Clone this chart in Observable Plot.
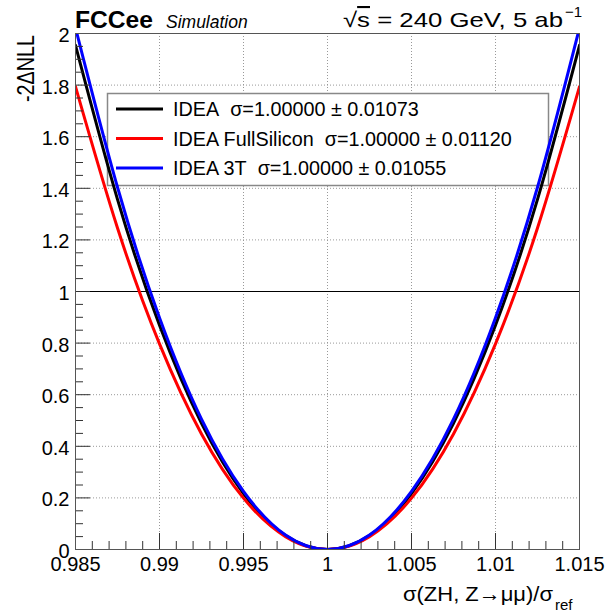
<!DOCTYPE html>
<html><head><meta charset="utf-8">
<script src="https://cdn.jsdelivr.net/npm/d3@7"></script>
<script src="https://cdn.jsdelivr.net/npm/@observablehq/plot@0.6"></script>
<style>html,body{margin:0;padding:0;background:#fff} svg{display:block}</style>
</head><body><div id="chart"></div>
<script>
// ---- data ----
const xValues = [0.985, 0.9875, 0.99, 0.9925, 0.995, 0.9975, 1.0, 1.0025, 1.005, 1.0075, 1.01, 1.0125, 1.015];
const ideaNLL = [1.954, 1.357, 0.869, 0.489, 0.217, 0.054, 0, 0.054, 0.217, 0.489, 0.869, 1.357, 1.954];
const ideaFullSiliconNLL = [1.794, 1.246, 0.797, 0.448, 0.199, 0.050, 0, 0.050, 0.199, 0.448, 0.797, 1.246, 1.794];
const idea3TNLL = [2.022, 1.404, 0.898, 0.505, 0.225, 0.056, 0, 0.056, 0.225, 0.505, 0.898, 1.404, 2.022];

const seriesNames = ["IDEA", "IDEA FullSilicon", "IDEA 3T"];
const seriesColors = ["#000000", "#ff0000", "#0000ff"];
const sigmaValues = ["1.00000", "1.00000", "1.00000"];
const sigmaErrors = ["0.01073", "0.01120", "0.01055"];

const xMajorTicks = [0.985, 0.99, 0.995, 1, 1.005, 1.01, 1.015];
const xTickLabels = ["0.985", "0.99", "0.995", "1", "1.005", "1.01", "1.015"];
const xMinorTicks = [0.986, 0.987, 0.988, 0.989, 0.991, 0.992, 0.993, 0.994, 0.996, 0.997, 0.998, 0.999,
                     1.001, 1.002, 1.003, 1.004, 1.006, 1.007, 1.008, 1.009, 1.011, 1.012, 1.013, 1.014];
const yMajorTicks = [0, 0.2, 0.4, 0.6, 0.8, 1, 1.2, 1.4, 1.6, 1.8, 2];
const yTickLabels = ["0", "0.2", "0.4", "0.6", "0.8", "1", "1.2", "1.4", "1.6", "1.8", "2"];
const yMinorTicks = [0.05, 0.1, 0.15, 0.25, 0.3, 0.35, 0.45, 0.5, 0.55, 0.65, 0.7, 0.75, 0.85, 0.9, 0.95,
                     1.05, 1.1, 1.15, 1.25, 1.3, 1.35, 1.45, 1.5, 1.55, 1.65, 1.7, 1.75, 1.85, 1.9, 1.95];
const referenceLevel = [1];

// ---- build table ----
const seriesValues = [ideaNLL, ideaFullSiliconNLL, idea3TNLL];
const rows = [];
seriesNames.forEach((name, s) => xValues.forEach((x, i) => rows.push({x, y: seriesValues[s][i], series: name})));
const xLabelOf = new Map(xMajorTicks.map((d, i) => [d, xTickLabels[i]]));
const yLabelOf = new Map(yMajorTicks.map((d, i) => [d, yTickLabels[i]]));

const W = 607, H = 615, mL = 75, mR = 28, mT = 33, mB = 66;
const innerW = W - mL - mR, innerH = H - mT - mB;
const FONT = "'Liberation Sans', Arial, Helvetica, sans-serif";
const gridStyle = {stroke: "#999", strokeOpacity: 1, strokeWidth: 1, strokeDasharray: "1,2"};

const plot = Plot.plot({
  width: W, height: H,
  marginLeft: mL, marginRight: mR, marginTop: mT, marginBottom: mB,
  style: {fontFamily: FONT, background: "#fff", color: "#000"},
  x: {domain: [0.985, 1.015], label: null},
  y: {domain: [0, 2], label: null},
  color: {domain: seriesNames, range: seriesColors},
  marks: [
    Plot.gridX(xMajorTicks.slice(1, -1), gridStyle),
    Plot.gridY(yMajorTicks.slice(1, -1), gridStyle),
    Plot.ruleY(referenceLevel, {stroke: "#000", strokeWidth: 1}),
    // legend box (white, covers the grid)
    Plot.frame({fill: "#fff", stroke: "#888", strokeWidth: 1.5, insetLeft: 32, insetTop: 60, insetRight: 31, insetBottom: 364}),
    Plot.line(rows, {x: "x", y: "y", z: "series", stroke: "series", curve: "natural", strokeWidth: 3, clip: true}),
    Plot.tickX(xMajorTicks, {x: d => d, stroke: "#333", insetTop: innerH - 16}),
    Plot.tickX(xMinorTicks, {x: d => d, stroke: "#333", insetTop: innerH - 8}),
    Plot.tickY(yMajorTicks, {y: d => d, stroke: "#333", insetRight: innerW - 15}),
    Plot.tickY(yMinorTicks, {y: d => d, stroke: "#333", insetRight: innerW - 8}),
    Plot.axisX(xMajorTicks, {tickSize: 0, tickPadding: 7, fontSize: 20, fill: "#000", label: null, tickFormat: d => xLabelOf.get(d)}),
    Plot.axisY(yMajorTicks, {tickSize: 0, tickPadding: 6, dy: 2, fontSize: 20, fill: "#000", label: null, tickFormat: d => yLabelOf.get(d)}),
    Plot.frame({stroke: "#555", strokeWidth: 1})
  ]
});
document.getElementById("chart").appendChild(plot);

// ---- annotations ----
const svg = d3.select(plot);
const ann = svg.append("g").attr("font-family", FONT).attr("fill", "#000").attr("text-anchor", "start");

ann.append("text").attr("x", 75).attr("y", 28).attr("font-size", 23).attr("font-weight", "bold")
  .attr("textLength", 78).attr("lengthAdjust", "spacingAndGlyphs").text("FCCee");
ann.append("text").attr("x", 166).attr("y", 28).attr("font-size", 17.5).attr("font-style", "italic")
  .text("Simulation");

const energy = ann.append("text").attr("x", 343).attr("y", 27).attr("font-size", 21)
  .attr("textLength", 220).attr("lengthAdjust", "spacingAndGlyphs");
energy.append("tspan").text("\u221A");
energy.append("tspan").attr("text-decoration", "overline").text("s");
energy.append("tspan").text(" = 240 GeV, 5 ab");
ann.append("text").attr("x", 565).attr("y", 17).attr("font-size", 15).text("\u22121");

ann.append("text").attr("x", 403).attr("y", 601).attr("font-size", 21)
  .attr("textLength", 150).attr("lengthAdjust", "spacingAndGlyphs")
  .text("\u03C3(ZH, Z\u2192\u03BC\u03BC)/\u03C3");
ann.append("text").attr("x", 555).attr("y", 610).attr("font-size", 15).text("ref");

ann.append("text").attr("transform", "translate(34,35) rotate(-90)").attr("font-size", 23)
  .attr("text-anchor", "end").attr("textLength", 67).attr("lengthAdjust", "spacingAndGlyphs")
  .text("-2\u0394NLL");

// legend entries
const lg = ann.append("g");
seriesNames.forEach((name, i) => {
  const yb = 116 + i * 29.5;
  lg.append("line").attr("x1", 116).attr("x2", 163).attr("y1", yb - 7).attr("y2", yb - 7)
    .attr("stroke", seriesColors[i]).attr("stroke-width", 3);
  lg.append("text").attr("x", 173).attr("y", yb).attr("font-size", 19.8)
    .text(name + "\u00A0 \u03C3=" + sigmaValues[i] + " \u00B1\u00A0" + sigmaErrors[i]);
});
</script>
</body></html>
